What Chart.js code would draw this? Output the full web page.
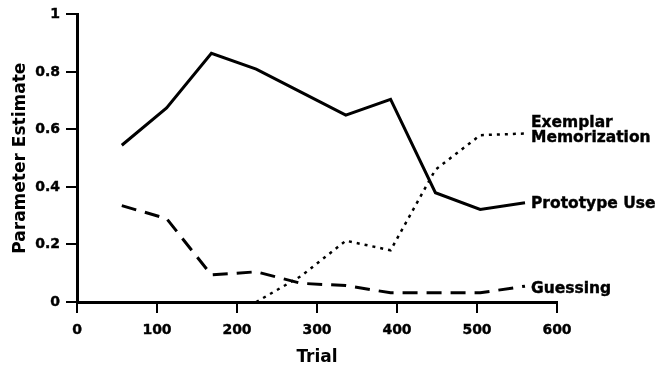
<!DOCTYPE html>
<html>
<head>
<meta charset="utf-8">
<script src="https://cdn.jsdelivr.net/npm/chart.js@4.4.0/dist/chart.umd.min.js"></script>
<style>
  html, body { margin: 0; padding: 0; background: #fff; }
</style>
</head>
<body>
<canvas id="params" width="659" height="368"></canvas>
<script>
// parameter estimates per block of trials
const trials = [56, 112, 168, 224, 280, 336, 392, 448, 504, 560];
const prototypeUse = [0.545, 0.675, 0.865, 0.81, 0.73, 0.65, 0.705, 0.38, 0.322, 0.345];
const exemplarMem = [null, null, null, 0, 0.09, 0.213, 0.18, 0.46, 0.58, 0.586];
const guessing = [0.335, 0.29, 0.094, 0.105, 0.065, 0.057, 0.032, 0.032, 0.032, 0.055];

const xTicks = [0, 100, 200, 300, 400, 500, 600];
const yTicks = ['0', '0.2', '0.4', '0.6', '0.8', '1'];
const seriesNames = [['Prototype Use'], ['Exemplar', 'Memorization'], ['Guessing']];

const FONT = '"DejaVu Sans", sans-serif';

function points(vals) {
    const out = [];
    for (let i = 0; i < trials.length; i++) {
        if (vals[i] !== null) out.push({ x: trials[i], y: vals[i] });
    }
    return out;
}

// write the series name just past the end of each line
const endLabels = {
    id: 'endLabels',
    afterDatasetsDraw(chart) {
        const ctx = chart.ctx;
        const xs = chart.scales.x;
        const ys = chart.scales.y;
        const shift = [1.5, -3, 2.5];
        ctx.save();
        ctx.fillStyle = '#000';
        ctx.strokeStyle = '#000';
        ctx.lineWidth = 0.4;
        ctx.font = 'bold 15.5px ' + FONT;
        ctx.textBaseline = 'middle';
        ctx.textAlign = 'left';
        chart.data.datasets.forEach((ds, i) => {
            const last = ds.data[ds.data.length - 1];
            const x = xs.getPixelForValue(last.x) + 6;
            const y = ys.getPixelForValue(last.y) + shift[i];
            const lines = seriesNames[i];
            lines.forEach((t, k) => {
                const ty = y + (k - (lines.length - 1) / 2) * 15;
                ctx.fillText(t, x, ty);
                ctx.strokeText(t, x, ty);
            });
        });
        ctx.restore();
    }
};

const ctx = document.getElementById('params').getContext('2d');
const chart = new Chart(ctx, {
    type: 'line',
    data: {
        datasets: [{
            label: 'Prototype Use',
            data: points(prototypeUse),
            borderColor: '#000',
            borderWidth: 3,
            pointRadius: 0,
            tension: 0,
            fill: false
        }, {
            label: 'Exemplar Memorization',
            data: points(exemplarMem),
            borderColor: '#000',
            borderWidth: 2.5,
            borderDash: [3, 5],
            pointRadius: 0,
            tension: 0,
            fill: false
        }, {
            label: 'Guessing',
            data: points(guessing),
            borderColor: '#000',
            borderWidth: 3,
            borderDash: [15, 9],
            pointRadius: 0,
            tension: 0,
            fill: false
        }]
    },
    options: {
        responsive: false,
        animation: false,
        devicePixelRatio: 1,
        layout: { padding: { top: 14, right: 102, left: 0, bottom: 0 } },
        plugins: {
            legend: { display: false },
            tooltip: { enabled: false }
        },
        scales: {
            x: {
                type: 'linear',
                min: 0,
                max: 600,
                afterBuildTicks: (scale) => { scale.ticks = xTicks.map(v => ({ value: v })); },
                afterFit: (scale) => { scale.height = 66; },
                ticks: {
                    color: '#000',
                    padding: 9,
                    maxRotation: 0,
                    textStrokeColor: '#000',
                    textStrokeWidth: 0.4,
                    font: { family: FONT, size: 14, weight: 'bold' }
                },
                grid: {
                    display: true,
                    drawOnChartArea: false,
                    drawTicks: true,
                    tickLength: 11,
                    color: '#000',
                    lineWidth: 2
                },
                border: { display: true, color: '#000', width: 3 },
                title: {
                    display: true,
                    text: 'Trial',
                    color: '#000',
                    padding: { top: 0, bottom: 0 },
                    font: { family: FONT, size: 17, weight: 'bold' }
                }
            },
            y: {
                min: 0,
                max: 1,
                afterBuildTicks: (scale) => { scale.ticks = yTicks.map(v => ({ value: Number(v) })); },
                afterFit: (scale) => { scale.width = 77; },
                ticks: {
                    color: '#000',
                    padding: 6,
                    textStrokeColor: '#000',
                    textStrokeWidth: 0.4,
                    callback: (value, index) => yTicks[index],
                    font: { family: FONT, size: 14, weight: 'bold' }
                },
                grid: {
                    display: true,
                    drawOnChartArea: false,
                    drawTicks: true,
                    tickLength: 11,
                    color: '#000',
                    lineWidth: 2
                },
                border: { display: true, color: '#000', width: 3 },
                title: {
                    display: true,
                    text: 'Parameter Estimate',
                    color: '#000',
                    padding: { top: 10, bottom: 0 },
                    font: { family: FONT, size: 17, weight: 'bold' }
                }
            }
        }
    },
    plugins: [endLabels]
});
</script>
</body>
</html>
